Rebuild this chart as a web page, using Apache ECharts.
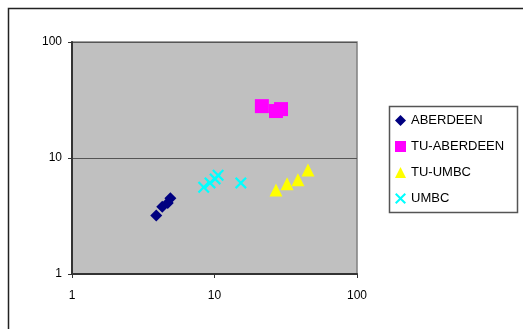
<!DOCTYPE html>
<html><head><meta charset="utf-8">
<script src="https://cdn.jsdelivr.net/npm/echarts@6/dist/echarts.min.js"></script>
<style>html,body{margin:0;padding:0;background:#fff}#c{width:523px;height:329px}</style>
</head><body><div id="c"></div>
<script>
const seriesNames = ['ABERDEEN', 'TU-ABERDEEN', 'TU-UMBC', 'UMBC'];
const aberdeen = [[3.9, 3.2], [4.3, 3.8], [4.7, 4.1], [4.9, 4.5]];
const tuAberdeen = [[21.5, 28.0], [27.0, 25.4], [29.3, 26.4]];
const tuUmbc = [[27.0, 5.3], [32.3, 6.0], [38.5, 6.5], [45.3, 7.9]];
const umbc = [[8.4, 5.6], [9.3, 6.1], [10.1, 6.6], [10.6, 7.1], [15.3, 6.1]];
const axisTicks = [1, 10, 100];

const crossPath = 'path://M0,1.3L1.3,0L5,3.7L8.7,0L10,1.3L6.3,5L10,8.7L8.7,10L5,6.3L1.3,10L0,8.7L3.7,5Z';
const font = 'Liberation Sans, Arial, sans-serif';
const chart = echarts.init(document.getElementById('c'), null, {renderer: 'canvas'});
chart.setOption({
  animation: false,
  backgroundColor: '#fff',
  graphic: [
    {type: 'rect', shape: {x: 8.5, y: 8.5, width: 700, height: 500}, style: {fill: 'none', stroke: '#222', lineWidth: 1.5}, z: 0},
    {type: 'rect', shape: {x: 389.5, y: 106.5, width: 128, height: 106}, style: {fill: '#fff', stroke: '#555', lineWidth: 1.5}, z: 1}
  ],
  grid: {left: 72, top: 42, right: 166, bottom: 55, show: true, backgroundColor: '#c0c0c0', borderColor: '#808080', borderWidth: 1.5},
  xAxis: {
    type: 'log', logBase: 10, min: axisTicks[0], max: axisTicks[axisTicks.length - 1],
    axisLine: {show: true, lineStyle: {color: '#333', width: 2}},
    axisTick: {show: true, inside: false, length: 4, lineStyle: {color: '#333'}},
    axisLabel: {margin: 16, fontSize: 12, color: '#000', fontFamily: font},
    splitLine: {show: false}, minorTick: {show: false}
  },
  yAxis: {
    type: 'log', logBase: 10, min: axisTicks[0], max: axisTicks[axisTicks.length - 1],
    axisLine: {show: true, lineStyle: {color: '#333', width: 2}},
    axisTick: {show: true, inside: false, length: 4, lineStyle: {color: '#333'}},
    axisLabel: {margin: 10, fontSize: 12, color: '#000', fontFamily: font},
    splitLine: {show: true, lineStyle: {color: '#555', width: 1}}
  },
  legend: {
    orient: 'vertical', left: 389, top: 106, padding: [8, 6, 8, 6],
    itemWidth: 11, itemHeight: 11, itemGap: 13, z: 5,
    textStyle: {fontSize: 13, color: '#000', fontFamily: font, lineHeight: 13},
    data: [
      {name: seriesNames[0], icon: 'diamond'},
      {name: seriesNames[1], icon: 'rect'},
      {name: seriesNames[2], icon: 'triangle'},
      {name: seriesNames[3], icon: crossPath}
    ]
  },
  series: [
    {name: seriesNames[0], type: 'scatter', data: aberdeen, symbol: 'diamond', symbolSize: 12, itemStyle: {color: '#000080', opacity: 1}},
    {name: seriesNames[1], type: 'scatter', data: tuAberdeen, symbol: 'rect', symbolSize: 14, itemStyle: {color: '#ff00ff', opacity: 1}},
    {name: seriesNames[2], type: 'scatter', data: tuUmbc, symbol: 'triangle', symbolSize: 13, itemStyle: {color: '#ffff00', opacity: 1}},
    {name: seriesNames[3], type: 'scatter', data: umbc, symbol: crossPath, symbolSize: 12, itemStyle: {color: '#00ffff', opacity: 1}}
  ]
});
</script></body></html>
